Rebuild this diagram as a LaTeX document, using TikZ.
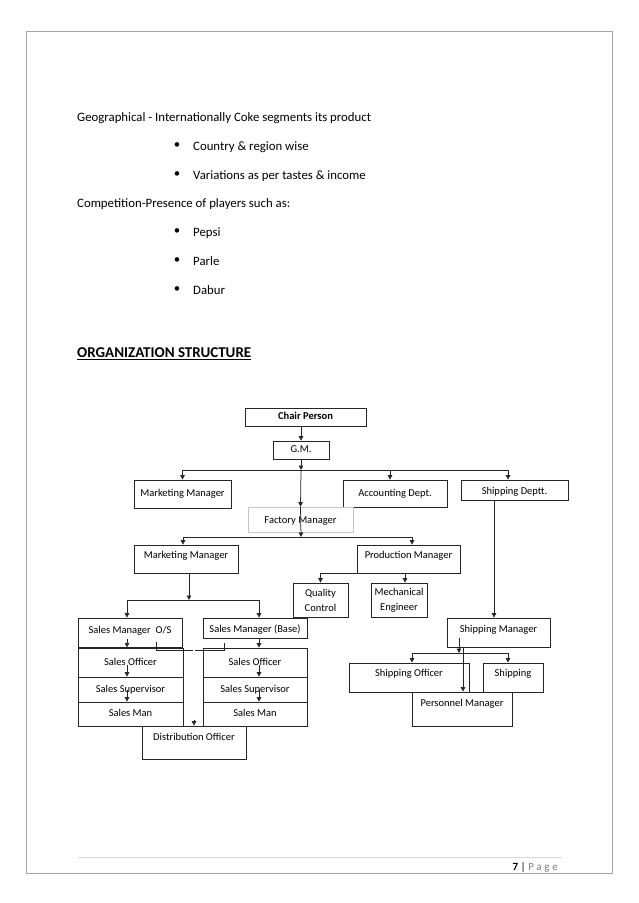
\documentclass[tikz,border=0pt]{standalone}
\usepackage{fontspec}
\setmainfont{Carlito}
\usetikzlibrary{arrows.meta}
\newcommand{\mybodyfnt}{\fontsize{12.8}{15}\selectfont}
\newcommand{\myheadfnt}{\fontsize{15}{17}\selectfont}
\newcommand{\mychartfnt}{\fontsize{10.5}{15}\selectfont}
\newcommand{\myfootfnt}{\fontsize{11}{13}\selectfont}
\begin{document}
\begin{tikzpicture}[x=1pt,y=-1pt,
  box/.style={draw=black!85, line width=0.75pt, inner sep=0pt, font=\mychartfnt, text height=7.5pt, text depth=2.5pt},
  boxm/.style={draw=black!85, line width=0.75pt, inner sep=0pt, font=\mychartfnt, align=center},
  arr/.style={draw=black!85, line width=0.75pt, -{Triangle[width=4.5pt,length=4.5pt]}},
  ln/.style={draw=black!85, line width=0.75pt},
  body/.style={font=\mybodyfnt, anchor=base west, inner sep=0pt},
  bul/.style={font=\mybodyfnt, inner sep=0pt}]
\useasboundingbox (0,0) rectangle (638,903);
\fill[white] (0,0) rectangle (638,903);
\draw[gray!70, line width=1pt] (26,31) rectangle (612,873);

% body text
\node[body] (t1) at (77,121) {Geographical - Internationally Coke segments its product};
\node[bul] (b1) at (177,146) {•};
\node[body] (t2) at (193,150) {Country \& region wise};
\node[bul] (b2) at (177,175) {•};
\node[body] (t3) at (193,179) {Variations as per tastes \& income};
\node[body] (t4) at (77,207) {Competition-Presence of players such as:};
\node[bul] (b3) at (177,232) {•};
\node[body] (t5) at (193,236) {Pepsi};
\node[bul] (b4) at (177,261) {•};
\node[body] (t6) at (193,265) {Parle};
\node[bul] (b5) at (177,290) {•};
\node[body] (t7) at (193,294) {Dabur};
\node[body, font=\myheadfnt\bfseries] (hd) at (77,357) {ORGANIZATION STRUCTURE};
\draw[line width=1pt] ([yshift=-2pt]hd.base west) -- ([yshift=-2pt]hd.base east);

% boxes
\node[box, font=\mychartfnt\bfseries, minimum width=121pt, minimum height=18pt] (chair) at (305.5,417) {Chair Person};
\node[box, minimum width=56pt, minimum height=18pt] (gm) at (301,450) {G.M.};
\node[box, minimum width=97pt, minimum height=28pt] (mm1) at (182.5,494) {Marketing Manager};
\node[box, minimum width=104pt, minimum height=27pt] (acc) at (395,493.5) {Accounting Dept.};
\node[box, minimum width=107pt, minimum height=20pt, text height=11.5pt] (shd) at (514.5,490) {Shipping Deptt.};
\node[box, draw=gray!45, minimum width=105pt, minimum height=25pt, text height=10.5pt] (fac) at (300.5,519.5) {Factory Manager};
\node[box, minimum width=104pt, minimum height=28pt, text depth=8.5pt] (mm2) at (186,559) {Marketing Manager};
\node[box, minimum width=103pt, minimum height=28pt, text depth=8.5pt] (pm) at (408.5,559) {Production Manager};
\node[boxm, minimum width=55pt, minimum height=34pt] (qc) at (320.5,600) {Quality\\Control};
\node[boxm, minimum width=56pt, minimum height=34pt] (me) at (399,600) {Mechanical\\Engineer};
\node[box, minimum width=104pt, minimum height=29pt, text depth=5.5pt] (smo) at (130,632.5) {Sales Manager\ \ O/S};
\node[box, minimum width=104pt, minimum height=20pt, text height=11.5pt] (smb) at (255,628) {Sales Manager (Base)};
\node[box, minimum width=105pt, minimum height=29pt] (so1) at (130.5,662.5) {Sales Officer};
\node[box, minimum width=105pt, minimum height=25pt] (ss1) at (130.5,689.5) {Sales Supervisor};
\node[box, minimum width=105pt, minimum height=24pt] (sm1) at (130.5,714) {Sales Man};
\node[box, minimum width=104pt, minimum height=29pt] (so2) at (255,662.5) {Sales Officer};
\node[box, minimum width=104pt, minimum height=25pt] (ss2) at (255,689.5) {Sales Supervisor};
\node[box, minimum width=104pt, minimum height=24pt] (sm2) at (255,714) {Sales Man};
\node[box, minimum width=104pt, minimum height=33pt, text depth=11.5pt] (do) at (194,742.5) {Distribution Officer};
\node[box, minimum width=103pt, minimum height=29pt, text depth=7.5pt] (shm) at (498.5,632.5) {Shipping Manager};
\node[box, minimum width=120pt, minimum height=29pt, text depth=9.5pt] (sho) at (409,677.5) {Shipping Officer};
\node[box, minimum width=60pt, minimum height=29pt, text depth=9.5pt] (shp) at (513,677.5) {Shipping};
\node[box, minimum width=100pt, minimum height=34pt, text depth=12.5pt] (pem) at (462,709) {Personnel Manager};

% top levels
\draw[arr] (gm.north |- chair.south) -- (gm.north);
\coordinate (bus1) at (301,470);
\draw[arr] (gm.south) -- (bus1);
\coordinate (accin) at ([xshift=-5pt]acc.north);
\coordinate (shdin) at ([xshift=-6.5pt]shd.north);
\draw[ln] (mm1.north |- bus1) -- (shdin |- bus1);
\draw[arr] (mm1.north |- bus1) -- (mm1.north);
\draw[arr] (accin |- bus1) -- (accin);
\draw[arr] (shdin |- bus1) -- (shdin);
\draw[arr] (bus1) -- (fac.north);
\coordinate (bus2) at (301,537);
\draw[arr] (fac.north) -- (bus2);
\coordinate (mm2in) at ([xshift=-3pt]mm2.north);
\coordinate (pmin) at ([xshift=3.5pt]pm.north);
\draw[ln] (mm2in |- bus2) -- (pmin |- bus2);
\draw[arr] (mm2in |- bus2) -- (mm2in);
\draw[arr] (pmin |- bus2) -- (pmin);

% production
\coordinate (mein) at ([xshift=6pt]me.north);
\draw[ln] (pm.south -| qc.north) -- (pm.south -| mein);
\draw[arr] (pm.south -| qc.north) -- (qc.north);
\draw[arr] (pm.south -| mein) -- (mein);

% marketing / sales
\coordinate (mm2out) at ([xshift=3pt]mm2.south);
\coordinate (bus3) at (189,600);
\draw[arr] (mm2out) -- (bus3);
\coordinate (smoin) at ([xshift=-3pt]smo.north);
\coordinate (smbin) at ([xshift=4pt]smb.north);
\draw[ln] (smoin |- bus3) -- (smbin |- bus3);
\draw[arr] (smoin |- bus3) -- (smoin);
\draw[arr] (smbin |- bus3) -- (smbin);
\coordinate (l1) at (smoin |- smo.south);
\draw[arr] ([yshift=8pt]l1) -- (l1);
\coordinate (l2) at (smoin |- ss1.north);
\draw[arr] ([yshift=12pt]l2) -- (l2);
\coordinate (l3) at (smoin |- sm1.north);
\draw[arr] ([yshift=12pt]l3) -- (l3);
\draw[arr] (smb.south -| smbin) -- (so2.north -| smbin);
\coordinate (r2) at (smbin |- ss2.north);
\draw[arr] ([yshift=12pt]r2) -- (r2);
\coordinate (r3) at (smbin |- sm2.north);
\draw[arr] ([yshift=12pt]r3) -- (r3);
\coordinate (xa) at (156,642);
\coordinate (xb) at (224,643);
\draw[ln] (xa) -- ++(0,8) -| (xb);
\coordinate (dtop) at (194,650);
\draw[draw=gray!55, double=white, double distance=1.2pt, line width=0.5pt] (dtop) -- ([yshift=5pt]do.north);
\draw[arr] ([yshift=6pt]do.north) -- (do.north);

% shipping
\coordinate (shdout) at ([xshift=-20.5pt]shd.south);
\draw[arr] (shdout) -- (shdout |- shm.north);
\coordinate (sa) at (459,638);
\coordinate (bus4) at (459,653);
\draw[arr] (sa) -- (bus4);
\coordinate (shoin) at ([xshift=3pt]sho.north);
\coordinate (shpin) at ([xshift=-5pt]shp.north);
\draw[ln] (shoin |- bus4) -- (shpin |- bus4);
\draw[arr] (shoin |- bus4) -- (shoin);
\draw[arr] (shpin |- bus4) -- (shpin);
\coordinate (pin) at ([xshift=1pt]pem.north);
\draw[arr] (pin |- shm.south) -- (pin);

% footer
\draw[gray!30, line width=0.6pt] (78,857) -- (562,857);
\node[font=\myfootfnt, anchor=base east, inner sep=0pt] (pg) at (558,870) {\textbf{7} | \textcolor{gray}{\addfontfeature{LetterSpace=25}Page}};
\end{tikzpicture}
\end{document}
